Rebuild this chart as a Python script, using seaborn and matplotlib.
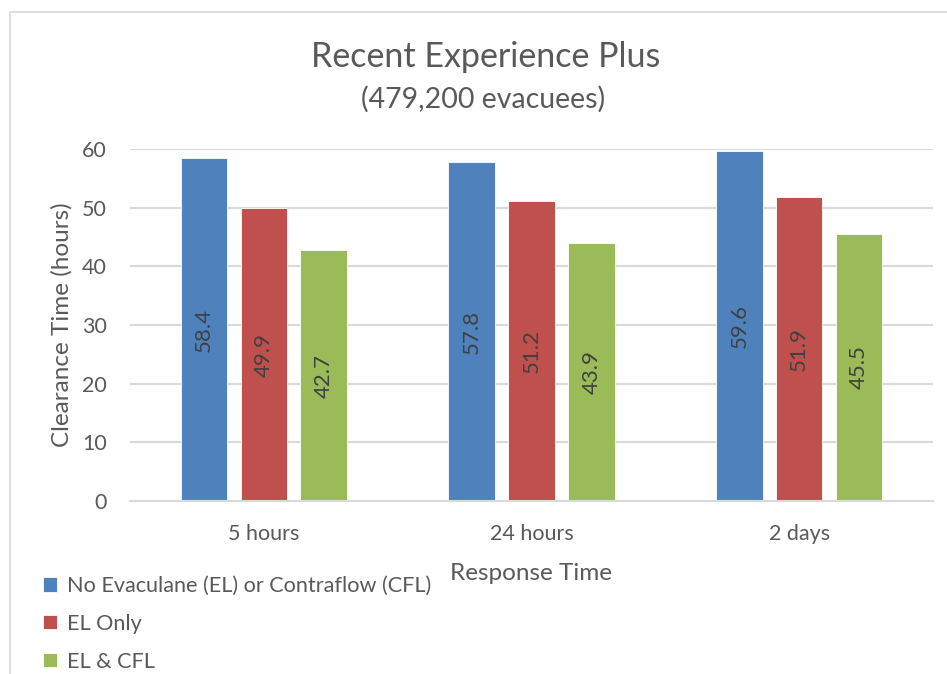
import matplotlib
matplotlib.use("Agg")
import matplotlib.pyplot as plt
import seaborn as sns
import pandas as pd
from matplotlib.patches import Rectangle

categories = ["5 hours", "24 hours", "2 days"]
series_names = ["No Evaculane (EL) or Contraflow (CFL)", "EL Only", "EL & CFL"]
no_el = [58.4, 57.8, 59.6]
el_only = [49.9, 51.2, 51.9]
el_cfl = [42.7, 43.9, 45.5]
colors = ["#4F81BD", "#C0504D", "#9BBB59"]
yticks = [0, 10, 20, 30, 40, 50, 60]

rows = []
for name, vals in zip(series_names, [no_el, el_only, el_cfl]):
    for c, v in zip(categories, vals):
        rows.append({"Response Time": c, "Series": name, "Value": v})
df = pd.DataFrame(rows)

sns.set_theme(style="white")
FONT = "Lato"
plt.rcParams["font.family"] = [FONT, "DejaVu Sans"]
TXT = "#595959"

W, H = 947, 674
fig = plt.figure(figsize=(W / 100, H / 100), dpi=100)
ax = fig.add_axes([130 / W, 1 - 501 / H, (933 - 130) / W, (501 - 149) / H])

sns.barplot(data=df, x="Response Time", y="Value", hue="Series",
            hue_order=series_names, order=categories, palette=colors,
            width=0.67, gap=0.22, saturation=1, ax=ax, legend=True,
            edgecolor="#FFFFFF", linewidth=0.6)

ax.set_ylim(0, 60)
ax.set_yticks(yticks)
ax.set_xlim(-0.5, 2.5)
ax.yaxis.grid(True, color="#D9D9D9", linewidth=1.5)
ax.set_axisbelow(True)
for s in ["top", "right", "left"]:
    ax.spines[s].set_visible(False)
ax.spines["bottom"].set_color("#D9D9D9")
ax.spines["bottom"].set_linewidth(1.5)
ax.tick_params(axis="both", length=0, labelsize=15.5, colors=TXT)
ax.tick_params(axis="y", pad=16.5)
ax.tick_params(axis="x", pad=16.5)
ax.set_ylabel("Clearance Time (hours)", fontsize=17.5, color=TXT, labelpad=7)
ax.set_xlabel("Response Time", fontsize=17.5, color=TXT, labelpad=14)

for cont in ax.containers:
    ax.bar_label(cont, fmt="%.1f", label_type="center", rotation=90,
                 fontsize=16, color="#404040")

handles, labels = ax.get_legend_handles_labels()
ax.get_legend().remove()
fig.legend(handles, labels, loc="upper left",
           bbox_to_anchor=(43 / W, 1 - 576 / H), frameon=False,
           fontsize=15.6, labelcolor=TXT, handlelength=0.65, handleheight=0.65,
           handletextpad=0.45, labelspacing=0.82, borderpad=0, borderaxespad=0)

fig.text(486 / W, 1 - 57 / H, "Recent Experience Plus", ha="center",
         va="center", fontsize=24.5, color=TXT)
fig.text(483 / W, 1 - 99 / H, "(479,200 evacuees)", ha="center",
         va="center", fontsize=20.5, color=TXT)

fig.patches.append(Rectangle((10 / W, -0.1), 1.2, 1 - 12 / H + 0.1,
                             transform=fig.transFigure, fill=False,
                             edgecolor="#D9D9D9", linewidth=1.2))

fig.savefig("out.png", dpi=100)
